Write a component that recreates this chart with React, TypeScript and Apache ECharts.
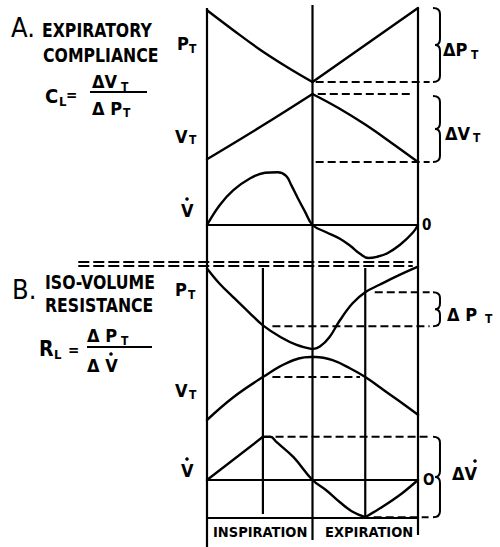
import React, { useEffect, useRef } from "react";
import * as echarts from "echarts";

// ---------------- DATA ----------------
// time axis: 0 = start of inspiration, 1 = end of inspiration, 2 = end of expiration
// Panel A — expiratory compliance (P_T, V_T in 0..100 units, flow in -100..100 units)
const aPressureInsp: number[][] = [[0, 97], [0.25, 70], [0.5, 44], [0.75, 21], [1, 0]];
const aPressureExp: number[][] = [[1, 0], [2, 100]];
const aVolumeInsp: number[][] = [[0, 4], [0.5, 51], [1, 100]];
const aVolumeExp: number[][] = [[1, 100], [1.25, 79], [1.5, 55], [1.75, 28], [2, 0]];
const aFlow: number[][] = [
  [0, 0], [0.12, 33], [0.25, 58], [0.41, 78], [0.55, 87], [0.67, 88], [0.75, 82], [0.8, 66],
  [0.86, 45], [0.93, 22], [1, 0], [1.13, -12], [1.26, -23], [1.36, -35], [1.45, -48],
  [1.53, -55], [1.61, -53], [1.71, -47], [1.83, -33], [1.95, -13], [2, 0],
];
// Panel B — iso-volume resistance
const bPressureInsp: number[][] = [[0, 96], [0.12, 78], [0.25, 62], [0.4, 44], [0.53, 29], [0.7, 15], [0.85, 6], [1, 1]];
const bPressureExp: number[][] = [[1, 1], [1.07, 4], [1.16, 15], [1.26, 35], [1.38, 55], [1.5, 68], [1.64, 77], [1.82, 88], [2, 98]];
const bVolume: number[][] = [
  [0, 0], [0.25, 35], [0.53, 66], [0.76, 88], [0.98, 97], [1.03, 97], [1.19, 92], [1.35, 80],
  [1.5, 66], [1.71, 42], [1.9, 20], [2, 8],
];
const bFlowRise: number[][] = [[0, 0], [0.53, 72]];
const bFlowFall: number[][] = [[0.53, 72], [0.6, 72], [0.66, 63], [0.82, 38], [1, 0], [1.13, -17], [1.26, -37], [1.38, -53], [1.5, -62]];
const bFlowRecover: number[][] = [[1.5, -62], [1.66, -45], [1.85, -22], [2, 0]];

// reference levels (dashed): [tStart, tEnd, value]
const aPressureLevels: number[][] = [[1.03, 2.11, 0]];
const aVolumeLevels: number[][] = [[1.05, 1.95, 100], [1.03, 2.11, 0]];
const bPressureLevels: number[][] = [[1.59, 2.11, 68], [0.62, 2.11, 28]];
const bVolumeLevels: number[][] = [[0.62, 1.45, 66]];
const bFlowLevels: number[][] = [[0.65, 2.12, 72], [1.58, 2.1, -62]];
// braces: [t, low, high]
const aPressureBrace = [2.142, 0, 100];
const aVolumeBrace = [2.142, 0, 97];
const bPressureBrace = [2.142, 28, 68];
const bFlowBrace = [2.142, -62, 72];

const phaseTimes = [0, 1, 2];
const isoVolumeTimes = [0.53, 1.5];

// ---------------- LAYOUT ----------------
const FONT = "'DejaVu Sans Condensed', 'Liberation Sans Narrow', 'Arial Narrow', sans-serif";
const GRID_LEFT = 207;
const GRID_WIDTH = 211;
const grids = [
  { top: 0, height: 547, min: 0, max: 547, inverse: true }, // frame (page rows)
  { top: 8, height: 74, min: 0, max: 100 },
  { top: 94, height: 68, min: 0, max: 100 },
  { top: 165, height: 120, min: -100, max: 100 },
  { top: 265, height: 85, min: 0, max: 100 },
  { top: 355, height: 65, min: 0, max: 100 },
  { top: 420, height: 120, min: -100, max: 100 },
];
const phaseLineRows = [[8, 547], [5, 540], [8, 535]];
const isoLineRows = [[268, 514], [268, 517]];
const baselineRow = 518;
const separatorRows = [262, 266];
const separatorSpan = [-1.22, 1.95];

const BLACK = "#000";

const solid = (g: number, data: number[][], smooth: number | boolean = 0, width = 2.4) => ({
  type: "line",
  xAxisIndex: g,
  yAxisIndex: g,
  data,
  symbol: "none",
  smooth,
  clip: false,
  silent: true,
  lineStyle: { color: BLACK, width, cap: "round", join: "round" },
});

// straight segments [t0, v0, t1, v1] drawn through the axes (not clipped)
const segments = (g: number, data: number[][], width: number, dash?: number[]) => ({
  type: "custom",
  xAxisIndex: g,
  yAxisIndex: g,
  clip: false,
  silent: true,
  data,
  renderItem: (_p: any, api: any) => {
    const a = api.coord([api.value(0), api.value(1)]);
    const b = api.coord([api.value(2), api.value(3)]);
    return {
      type: "line",
      shape: { x1: a[0], y1: a[1], x2: b[0], y2: b[1] },
      style: { stroke: BLACK, lineWidth: width, lineDash: dash || null, fill: null },
    };
  },
});

const dashedLevels = (g: number, levels: number[][]) =>
  segments(g, levels.map((l) => [l[0], l[2], l[1], l[2]]), 2, [8, 4]);

const brace = (g: number, b: number[]) => ({
  type: "custom",
  xAxisIndex: g,
  yAxisIndex: g,
  clip: false,
  silent: true,
  data: [b],
  renderItem: (_p: any, api: any) => {
    const pt = api.coord([api.value(0), api.value(2)]);
    const pb = api.coord([api.value(0), api.value(1)]);
    const x0 = pt[0];
    const top = pt[1];
    const bot = pb[1];
    const xb = x0 + 7;
    const xm = x0 + 2;
    const mid = (top + bot) / 2;
    const r = Math.min(6, (bot - top) / 6);
    const d =
      `M${x0},${top} Q${xb},${top} ${xb},${top + r} L${xb},${mid - r} Q${xb},${mid} ${xm},${mid} ` +
      `Q${xb},${mid} ${xb},${mid + r} L${xb},${bot - r} Q${xb},${bot} ${x0},${bot}`;
    return { type: "path", shape: { pathData: d }, style: { fill: "none", stroke: BLACK, lineWidth: 2 } };
  },
});

const txt = (x: number, y: number, text: string, size: number, weight: string = "bold", scaleX = 1) => ({
  type: "text",
  x,
  y,
  scaleX,
  silent: true,
  style: {
    text,
    fontSize: size,
    fontFamily: FONT,
    fontWeight: weight,
    fill: BLACK,
    align: "left",
    verticalAlign: "middle",
    textAlign: "left",
    textVerticalAlign: "middle",
  },
});
const dot = (x: number, y: number) => ({
  type: "circle",
  silent: true,
  shape: { cx: x, cy: y, r: 1.8 },
  style: { fill: BLACK },
});
const bar = (x1: number, x2: number, y: number) => ({
  type: "line",
  silent: true,
  shape: { x1, y1: y, x2, y2: y },
  style: { stroke: BLACK, lineWidth: 2 },
});

export default function App() {
  const ref = useRef<HTMLDivElement>(null);
  useEffect(() => {
    if (!ref.current) return;
    const chart = echarts.init(ref.current, null, { renderer: "svg" });

    const series: any[] = [];
    // frame: phase boundaries, iso-volume instants, baseline
    series.push(
      segments(
        0,
        [
          ...phaseTimes.map((t, i) => [t, phaseLineRows[i][0], t, phaseLineRows[i][1]]),
          ...isoVolumeTimes.map((t, i) => [t, isoLineRows[i][0], t, isoLineRows[i][1]]),
          [0, baselineRow, 2, baselineRow],
        ],
        2.2
      )
    );
    series.push(segments(0, separatorRows.map((r) => [separatorSpan[0], r, separatorSpan[1], r]), 2, [11, 4]));
    // Panel A
    series.push(solid(1, aPressureInsp, 0.4), solid(1, aPressureExp));
    series.push(solid(2, aVolumeInsp, 0.4), solid(2, aVolumeExp, 0.4));
    series.push(solid(3, aFlow, 0.4), segments(3, [[0, 0, 2, 0]], 2.2));
    series.push(dashedLevels(1, aPressureLevels), dashedLevels(2, aVolumeLevels));
    series.push(brace(1, aPressureBrace), brace(2, aVolumeBrace));
    // Panel B
    series.push(solid(4, bPressureInsp, 0.4), solid(4, bPressureExp, 0.4));
    series.push(solid(5, bVolume, 0.4));
    series.push(solid(6, bFlowRise), solid(6, bFlowFall, 0.4), solid(6, bFlowRecover, 0.3), segments(6, [[0, 0, 2, 0]], 2.2));
    series.push(dashedLevels(4, bPressureLevels), dashedLevels(5, bVolumeLevels), dashedLevels(6, bFlowLevels));
    series.push(brace(4, bPressureBrace), brace(6, bFlowBrace));

    const graphic: any[] = [
      // Panel A titles
      txt(11, 27, "A.", 27, "normal"),
      txt(42, 30, "EXPIRATORY", 19, "bold", 0.92),
      txt(43, 55, "COMPLIANCE", 19, "bold", 0.92),
      txt(45, 96, "C", 20),
      txt(59, 101, "L", 13),
      txt(66, 95, "=", 15),
      txt(92, 81, "ΔV", 18),
      txt(121, 87, "T", 12),
      bar(90, 147, 92),
      txt(92, 108, "Δ P", 18),
      txt(123, 113, "T", 12),
      txt(177, 43, "P", 18),
      txt(189, 49, "T", 12),
      txt(175, 136, "V", 18),
      txt(189, 140, "T", 12),
      txt(181, 210, "V", 18),
      dot(187, 199),
      txt(443, 49, "ΔP", 18),
      txt(471, 55, "T", 12),
      txt(445, 133, "ΔV", 18),
      txt(473, 138, "T", 12),
      txt(422, 225, "0", 15),
      // Panel B titles
      txt(12, 289, "B.", 27, "normal"),
      txt(45, 282, "ISO-VOLUME", 19, "bold", 0.92),
      txt(45, 305, "RESISTANCE", 19, "bold", 0.92),
      txt(175, 289, "P", 18),
      txt(188, 295, "T", 12),
      txt(39, 349, "R", 21),
      txt(54, 354, "L", 13),
      txt(68, 350, "=", 15),
      txt(87, 335, "Δ P", 18),
      txt(121, 341, "T", 12),
      bar(87, 152, 347),
      txt(87, 365, "Δ V", 18),
      dot(111, 354),
      txt(175, 390, "V", 18),
      txt(189, 395, "T", 12),
      txt(181, 470, "V", 18),
      dot(187, 459),
      txt(447, 314, "Δ P", 18),
      txt(485, 319, "T", 12),
      txt(423, 480, "O", 15),
      txt(452, 473, "ΔV", 18),
      dot(475, 461),
      txt(213, 532, "INSPIRATION", 14.5),
      txt(325, 532, "EXPIRATION", 14.5),
    ];

    chart.setOption({
      animation: false,
      backgroundColor: "#fff",
      grid: grids.map((g) => ({ left: GRID_LEFT, width: GRID_WIDTH, top: g.top, height: g.height, containLabel: false })),
      xAxis: grids.map((_g, i) => ({ type: "value", gridIndex: i, min: 0, max: 2, show: false })),
      yAxis: grids.map((g, i) => ({ type: "value", gridIndex: i, min: g.min, max: g.max, inverse: !!g.inverse, show: false })),
      series,
      graphic,
    });
    return () => chart.dispose();
  }, []);
  return <div ref={ref} style={{ position: "absolute", left: 0, top: 0, width: 500, height: 547, background: "#fff" }} />;
}
